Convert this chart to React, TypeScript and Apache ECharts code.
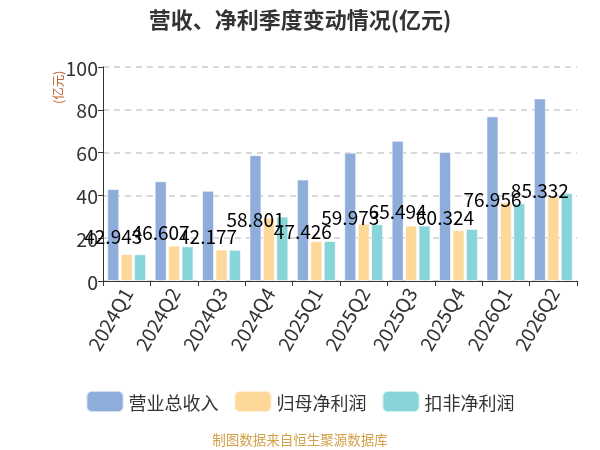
import { useEffect, useRef } from 'react'
import * as echarts from 'echarts'

const quarters = ['2024Q1', '2024Q2', '2024Q3', '2024Q4', '2025Q1', '2025Q2', '2025Q3', '2025Q4', '2026Q1', '2026Q2']
const revenue = [42.943, 46.607, 42.177, 58.801, 47.426, 59.973, 65.494, 60.324, 76.956, 85.332]
const netProfit = [12.6, 16.5, 14.7, 29.6, 18.7, 26.8, 25.9, 23.7, 36.8, 39.5]
const deductedProfit = [12.5, 16.2, 14.6, 30.1, 18.7, 26.5, 25.9, 24.3, 36.3, 41.1]
const seriesNames = ['营业总收入', '归母净利润', '扣非净利润']

const FONT = '"Noto Sans CJK SC", "Noto Sans", sans-serif'

export default function App() {
  const chartRef = useRef<HTMLDivElement>(null)

  useEffect(() => {
    if (!chartRef.current) return
    const chart = echarts.init(chartRef.current, null, { renderer: 'svg' })

    const barStyle = (color: string) => ({
      color,
      borderColor: 'rgba(255,255,255,0.6)',
      borderWidth: 1
    })

    const option = {
      animation: false,
      textStyle: { fontFamily: FONT },
      title: {
        text: '营收、净利季度变动情况(亿元)',
        left: 'center',
        top: 2,
        textStyle: { fontSize: 22, fontWeight: 'bold', color: '#333', fontFamily: FONT }
      },
      legend: {
        top: 385,
        left: 'center',
        icon: 'roundRect',
        itemWidth: 37,
        itemHeight: 21,
        itemGap: 15,
        textStyle: { fontSize: 18, color: '#333' },
        data: seriesNames
      },
      grid: { left: 103, right: 23, top: 67, bottom: 169 },
      xAxis: {
        type: 'category',
        data: quarters,
        axisLine: { lineStyle: { color: '#333', width: 1 } },
        axisTick: { show: true, length: 5, lineStyle: { color: '#333' } },
        axisLabel: { rotate: 60, fontSize: 19.5, color: '#333', margin: 8 }
      },
      yAxis: {
        type: 'value',
        min: 0,
        max: 100,
        interval: 20,
        axisLine: { show: true, lineStyle: { color: '#333' } },
        axisTick: { show: true, length: 5, lineStyle: { color: '#333' } },
        axisLabel: { fontSize: 19.5, color: '#333', margin: 5 },
        splitLine: { lineStyle: { color: '#ccc', type: [6, 5], width: 1.5 } }
      },
      graphic: [
        {
          type: 'text',
          x: 51,
          y: 104,
          rotation: Math.PI / 2,
          style: { text: '(亿元)', fontSize: 12.5, fill: '#c0622f', fontFamily: FONT }
        },
        {
          type: 'text',
          left: 'center',
          top: 432,
          style: { text: '制图数据来自恒生聚源数据库', fontSize: 13.5, fill: '#d4a048', fontFamily: FONT }
        }
      ],
      series: [
        {
          name: seriesNames[0],
          type: 'bar',
          data: revenue,
          barWidth: 12,
          barGap: '12%',
          itemStyle: barStyle('#8eaddb'),
          label: {
            show: true,
            position: 'inside',
            color: '#000',
            fontSize: 19,
            fontFamily: FONT
          },
          z: 3
        },
        {
          name: seriesNames[1],
          type: 'bar',
          data: netProfit,
          barWidth: 12,
          barGap: '12%',
          itemStyle: barStyle('#fdd898')
        },
        {
          name: seriesNames[2],
          type: 'bar',
          data: deductedProfit,
          barWidth: 12,
          barGap: '12%',
          itemStyle: barStyle('#87d5d8')
        }
      ]
    }

    chart.setOption(option)

    return () => {
      chart.dispose()
    }
  }, [])

  return (
    <div
      ref={chartRef}
      style={{ position: 'fixed', left: 0, top: 0, width: 600, height: 450 }}
    />
  )
}
